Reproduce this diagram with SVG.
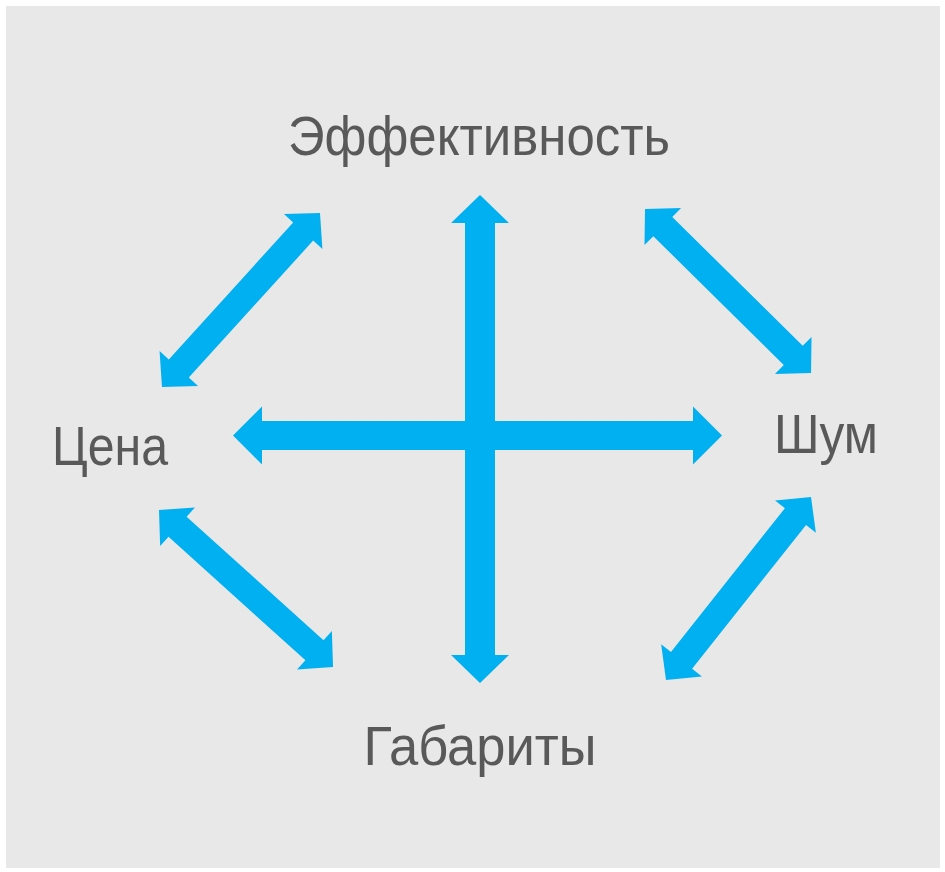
<svg xmlns="http://www.w3.org/2000/svg" width="945" height="872" viewBox="0 0 945 872">
<style>
.arr{fill:#00B0F0}
.lbl{font-family:"Liberation Sans","DejaVu Sans",sans-serif;font-size:55px;fill:#595959;text-anchor:middle}
</style>
<rect x="0" y="0" width="945" height="872" fill="#ffffff"/>
<rect x="6" y="6" width="934" height="862" fill="#E8E8E8"/>
<g id="connectors">
<polygon class="arr" transform="translate(480,195) rotate(90)" points="0,0 28,-29 28,-15 460,-15 460,-29 488,0 460,29 460,15 28,15 28,29"/>
<polygon class="arr" transform="translate(233,435.5)" points="0,0 29,-29 29,-14.5 460,-14.5 460,-29 489,0 460,29 460,14.5 29,14.5 29,29"/>
<polygon class="arr" transform="translate(162,387) rotate(-47.76)" points="0,0 25,-26 25,-13.5 210,-13.5 210,-26 235,0 210,26 210,13.5 25,13.5 25,26"/>
<polygon class="arr" transform="translate(645,209) rotate(44.65)" points="0,0 25,-26 25,-13.5 208.4,-13.5 208.4,-26 233.4,0 208.4,26 208.4,13.5 25,13.5 25,26"/>
<polygon class="arr" transform="translate(159,510) rotate(42.06)" points="0,0 25,-26 25,-13.5 209.4,-13.5 209.4,-26 234.4,0 209.4,26 209.4,13.5 25,13.5 25,26"/>
<polygon class="arr" transform="translate(666,680) rotate(-51.61)" points="0,0 25,-26 25,-13.5 208.5,-13.5 208.5,-26 233.5,0 208.5,26 208.5,13.5 25,13.5 25,26"/>
</g>
<g id="node-effektivnost"><text class="lbl" x="479" y="155" textLength="382" lengthAdjust="spacingAndGlyphs">Эффективность</text></g>
<g id="node-tsena"><text class="lbl" x="110" y="465" textLength="116" lengthAdjust="spacingAndGlyphs">Цена</text></g>
<g id="node-shum"><text class="lbl" x="826" y="453" textLength="104" lengthAdjust="spacingAndGlyphs">Шум</text></g>
<g id="node-gabarity"><text class="lbl" x="480" y="765" textLength="233" lengthAdjust="spacingAndGlyphs">Габариты</text></g>
</svg>
